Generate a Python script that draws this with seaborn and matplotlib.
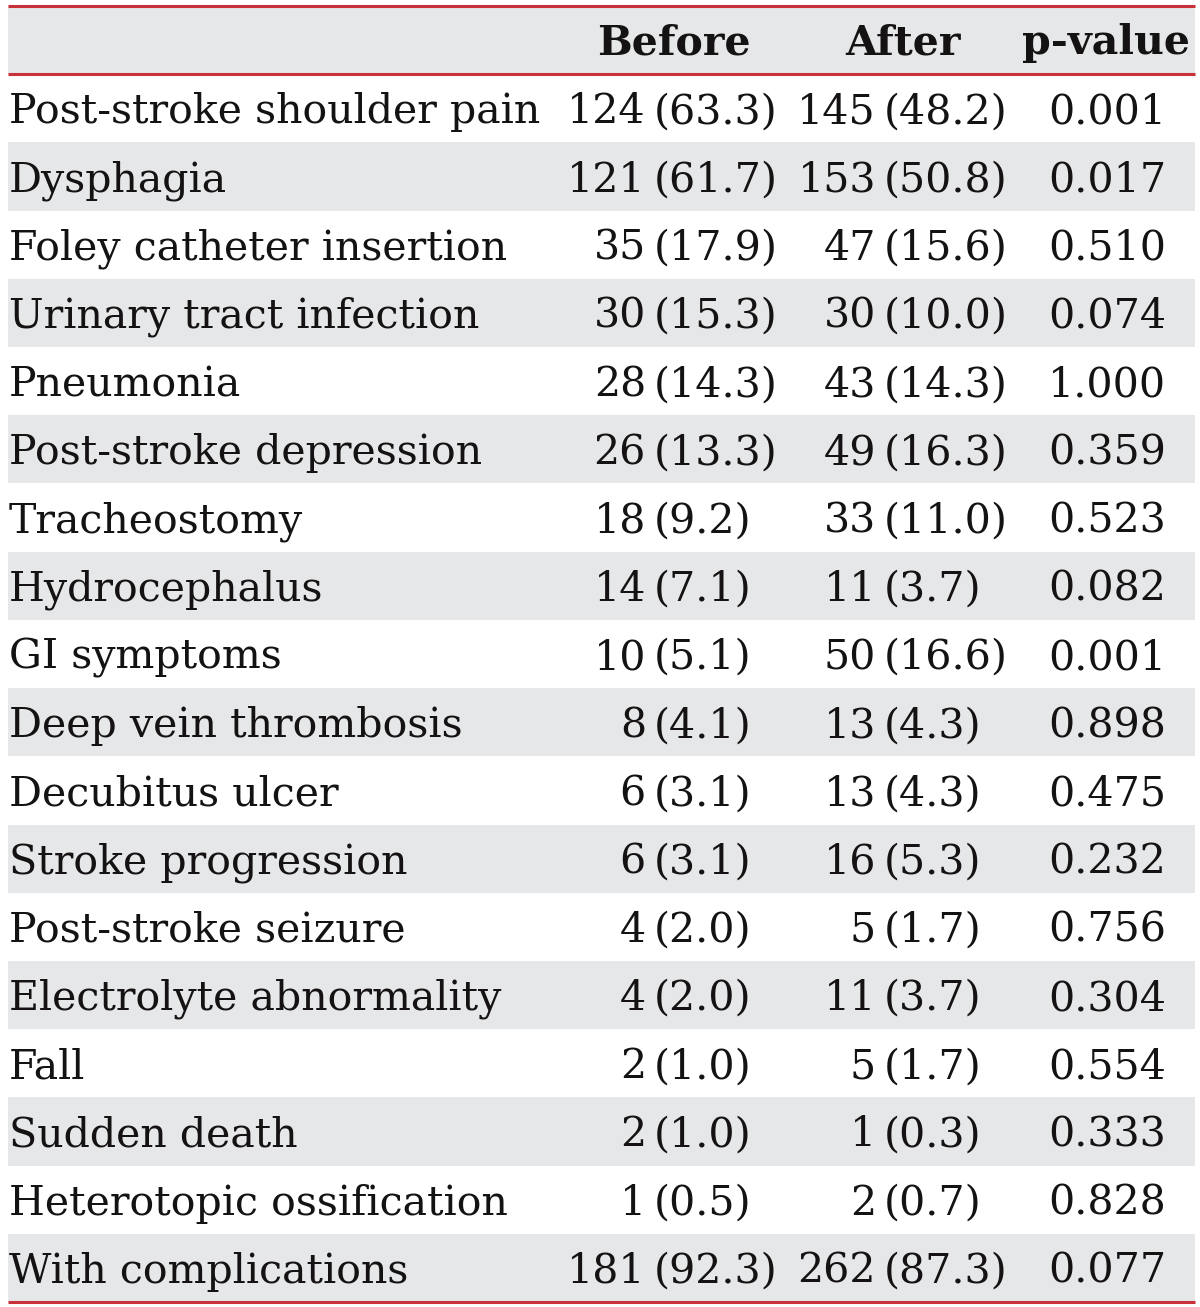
import matplotlib
matplotlib.use("Agg")
import matplotlib.pyplot as plt
import seaborn as sns

sns.set_theme(style="white")
plt.rcParams['font.family'] = ['DejaVu Serif']

headers = ["Before", "After", "p-value"]
categories = [
    "Post-stroke shoulder pain", "Dysphagia", "Foley catheter insertion",
    "Urinary tract infection", "Pneumonia", "Post-stroke depression",
    "Tracheostomy", "Hydrocephalus", "GI symptoms", "Deep vein thrombosis",
    "Decubitus ulcer", "Stroke progression", "Post-stroke seizure",
    "Electrolyte abnormality", "Fall", "Sudden death",
    "Heterotopic ossification", "With complications",
]
before_n = [124, 121, 35, 30, 28, 26, 18, 14, 10, 8, 6, 6, 4, 4, 2, 2, 1, 181]
before_pct = ["63.3", "61.7", "17.9", "15.3", "14.3", "13.3", "9.2", "7.1", "5.1",
              "4.1", "3.1", "3.1", "2.0", "2.0", "1.0", "1.0", "0.5", "92.3"]
after_n = [145, 153, 47, 30, 43, 49, 33, 11, 50, 13, 13, 16, 5, 11, 5, 1, 2, 262]
after_pct = ["48.2", "50.8", "15.6", "10.0", "14.3", "16.3", "11.0", "3.7", "16.6",
             "4.3", "4.3", "5.3", "1.7", "3.7", "1.7", "0.3", "0.7", "87.3"]
p_values = ["0.001", "0.017", "0.510", "0.074", "1.000", "0.359", "0.523", "0.082",
            "0.001", "0.898", "0.475", "0.232", "0.756", "0.304", "0.554", "0.333",
            "0.828", "0.077"]

W, H = 1200, 1307
fig = plt.figure(figsize=(W / 100, H / 100), dpi=100)
ax = fig.add_axes([0, 0, 1, 1])
ax.set_xlim(0, W)
ax.set_ylim(H, 0)
ax.axis("off")

gray = "#e6e7e8"
red = "#c8303a"
txt = "#141213"
x0, x1 = 8, 1195
top = 6
rh = (1302 - top) / 19.0
fs = 29.6

def row_top(i):
    return top + i * rh

ax.axhspan(row_top(0), row_top(1), xmin=x0 / W, xmax=x1 / W, color=gray, lw=0)
for i in range(len(categories)):
    if i % 2 == 1:
        ax.axhspan(row_top(i + 1), row_top(i + 2), xmin=x0 / W, xmax=x1 / W, color=gray, lw=0)

for y in [row_top(0), row_top(1), row_top(19)]:
    ax.plot([x0, x1], [y, y], color=red, lw=2.2, solid_capstyle="butt")

hx = [674, 903, 1106]
for x, h in zip(hx, headers):
    ax.text(x, row_top(0) + rh / 2 + 3, h, ha="center", va="center",
            fontsize=fs, fontweight="bold", color=txt)

for i, cat in enumerate(categories):
    yc = row_top(i + 1) + rh / 2 + 4
    ax.text(x0 + 1, yc, cat, ha="left", va="center", fontsize=fs, color=txt)
    ax.text(646, yc, str(before_n[i]), ha="right", va="center", fontsize=fs, color=txt)
    ax.text(654, yc, f"({before_pct[i]})", ha="left", va="center", fontsize=fs, color=txt)
    ax.text(876, yc, str(after_n[i]), ha="right", va="center", fontsize=fs, color=txt)
    ax.text(884, yc, f"({after_pct[i]})", ha="left", va="center", fontsize=fs, color=txt)
    ax.text(1107, yc, p_values[i], ha="center", va="center", fontsize=fs, color=txt)

fig.savefig("out.png", dpi=100, facecolor="white")
